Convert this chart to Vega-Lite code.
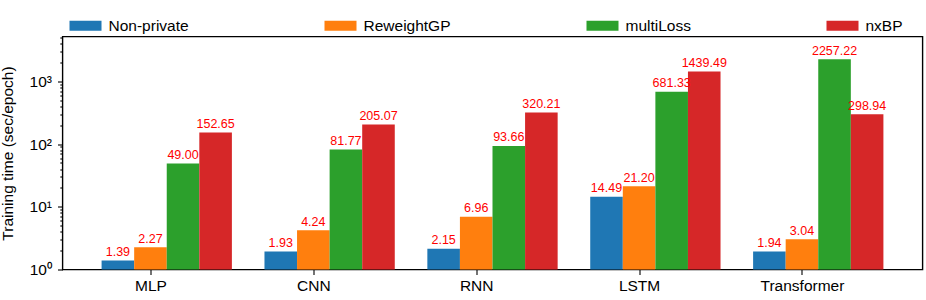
{
  "$schema": "https://vega.github.io/schema/vega-lite/v6.json",
  "width": 860,
  "height": 233,
  "autosize": {"type": "none"},
  "padding": {"left": 62.5, "top": 36.5, "right": 3.5, "bottom": 30.5},
  "config": {
    "font": "Liberation Sans",
    "view": {"stroke": "black", "strokeWidth": 1.4},
    "axis": {"labelColor": "black", "titleColor": "black", "tickColor": "black", "tickWidth": 1.1, "grid": false}
  },
  "data": {
    "values": [
      {"model": "MLP", "method": "Non-private", "time": 1.39},
      {"model": "MLP", "method": "ReweightGP", "time": 2.27},
      {"model": "MLP", "method": "multiLoss", "time": 49.00},
      {"model": "MLP", "method": "nxBP", "time": 152.65},
      {"model": "CNN", "method": "Non-private", "time": 1.93},
      {"model": "CNN", "method": "ReweightGP", "time": 4.24},
      {"model": "CNN", "method": "multiLoss", "time": 81.77},
      {"model": "CNN", "method": "nxBP", "time": 205.07},
      {"model": "RNN", "method": "Non-private", "time": 2.15},
      {"model": "RNN", "method": "ReweightGP", "time": 6.96},
      {"model": "RNN", "method": "multiLoss", "time": 93.66},
      {"model": "RNN", "method": "nxBP", "time": 320.21},
      {"model": "LSTM", "method": "Non-private", "time": 14.49},
      {"model": "LSTM", "method": "ReweightGP", "time": 21.20},
      {"model": "LSTM", "method": "multiLoss", "time": 681.33},
      {"model": "LSTM", "method": "nxBP", "time": 1439.49},
      {"model": "Transformer", "method": "Non-private", "time": 1.94},
      {"model": "Transformer", "method": "ReweightGP", "time": 3.04},
      {"model": "Transformer", "method": "multiLoss", "time": 2257.22},
      {"model": "Transformer", "method": "nxBP", "time": 298.94}
    ]
  },
  "encoding": {
    "x": {
      "field": "model", "type": "nominal",
      "sort": ["MLP", "CNN", "RNN", "LSTM", "Transformer"],
      "scale": {"paddingInner": 0.2, "paddingOuter": 0.24},
      "axis": {"title": null, "labelAngle": 0, "tickOffset": -16.3, "domain": false, "tickSize": 5, "labelFontSize": 15.5, "labelPadding": 4}
    },
    "xOffset": {
      "field": "method", "type": "nominal",
      "sort": ["Non-private", "ReweightGP", "multiLoss", "nxBP"],
      "scale": {"paddingInner": 0, "paddingOuter": 0}
    },
    "y": {
      "field": "time", "type": "quantitative",
      "scale": {"type": "log", "domain": [1, 5200], "nice": false},
      "axis": {
        "title": "Training time (sec/epoch)",
        "titleFontSize": 15.5, "titleFontWeight": "normal", "titlePadding": 14,
        "domain": false,
        "values": [1, 2, 3, 4, 5, 6, 7, 8, 9, 10, 20, 30, 40, 50, 60, 70, 80, 90, 100, 200, 300, 400, 500, 600, 700, 800, 900, 1000, 2000, 3000, 4000, 5000],
        "labelExpr": "datum.value == 1 ? '10⁰' : datum.value == 10 ? '10¹' : datum.value == 100 ? '10²' : datum.value == 1000 ? '10³' : ''",
        "labelOverlap": false,
        "labelFlush": false,
        "labelFontSize": 15.5,
        "labelPadding": 6,
        "tickSize": {"condition": {"test": "indexof([1, 10, 100, 1000], datum.value) >= 0", "value": 5}, "value": 2.7}
      }
    }
  },
  "layer": [
    {
      "mark": {"type": "bar"},
      "encoding": {
        "y2": {"datum": 1},
        "color": {
          "field": "method", "type": "nominal",
          "sort": ["Non-private", "ReweightGP", "multiLoss", "nxBP"],
          "scale": {"domain": ["Non-private", "ReweightGP", "multiLoss", "nxBP"], "range": ["#1f77b4", "#ff7f0e", "#2ca02c", "#d62728"]},
          "legend": {
            "orient": "none", "legendX": 7, "legendY": -27,
            "direction": "horizontal", "columns": 4, "title": null,
            "symbolType": "M-1,-0.3125H1V0.3125H-1Z", "symbolSize": 1024,
            "symbolStrokeWidth": 0, "symbolOpacity": 1,
            "labelFontSize": 15.5, "labelColor": "black", "labelOffset": 7,
            "columnPadding": 135, "padding": 0
          }
        }
      }
    },
    {
      "mark": {"type": "text", "baseline": "bottom", "dy": -1.5, "color": "#ff0000", "fontSize": 12.5},
      "encoding": {"text": {"field": "time", "type": "quantitative", "format": ".2f"}}
    }
  ]
}
